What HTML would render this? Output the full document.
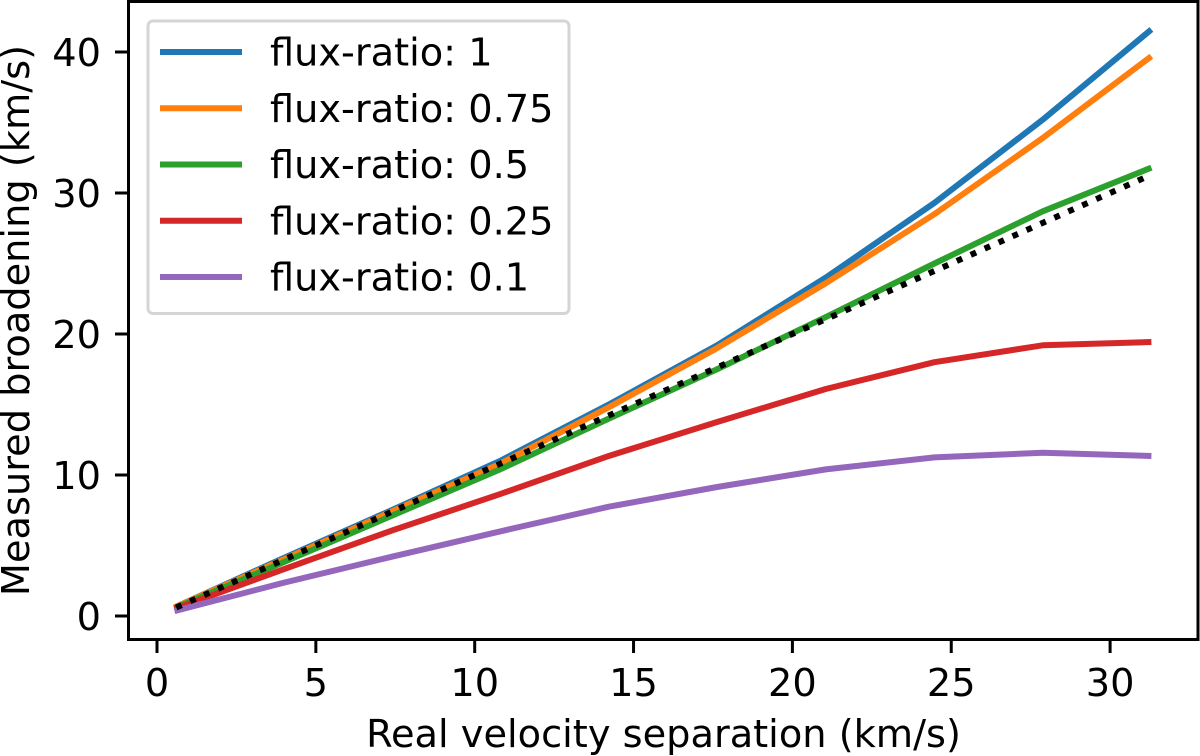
<!DOCTYPE html>
<html lang="en">
<head>
<meta charset="utf-8">
<title>Measured broadening vs real velocity separation</title>
<style>
html,body{margin:0;padding:0;background:#fff;}
svg{display:block;}
text{font-family:"DejaVu Sans","Liberation Sans",sans-serif;fill:#000;}
</style>
</head>
<body>
<svg id="chart" xmlns="http://www.w3.org/2000/svg" width="1200" height="756" viewBox="0 0 1200 756"></svg>
<script>
const separations = [0.55, 3.97, 7.38, 10.8, 14.22, 17.63, 21.05, 24.47, 27.88, 31.3];
const flux1 = [0.6, 4.1, 7.5, 11.0, 15.0, 19.2, 24.0, 29.3, 35.2, 41.6];
const flux075 = [0.6, 4.0, 7.4, 10.8, 14.8, 19.0, 23.6, 28.5, 33.9, 39.7];
const flux05 = [0.55, 3.8, 7.1, 10.4, 14.0, 17.5, 21.2, 25.0, 28.7, 31.8];
const flux025 = [0.5, 3.3, 6.05, 8.65, 11.35, 13.76, 16.1, 18.0, 19.2, 19.43];
const flux01 = [0.35, 2.35, 4.2, 6.0, 7.75, 9.15, 10.4, 11.25, 11.58, 11.35];
const identityLine = [0.55, 3.97, 7.38, 10.8, 14.22, 17.63, 21.05, 24.47, 27.88, 31.3];
const seriesLabels = ["flux-ratio: 1", "flux-ratio: 0.75", "flux-ratio: 0.5", "flux-ratio: 0.25", "flux-ratio: 0.1"];
const seriesColors = ["#1f77b4", "#ff7f0e", "#2ca02c", "#d62728", "#9467bd"];
const seriesValues = [flux1, flux075, flux05, flux025, flux01];
const xTicks = [0, 5, 10, 15, 20, 25, 30];
const yTicks = [0, 10, 20, 30, 40];

const NS = "http://www.w3.org/2000/svg";
const svg = document.getElementById("chart");
const plotLeft = 128.5, plotRight = 1198, plotTop = 1.5, plotBottom = 639.5;
const fontSize = 38.3;
const lineWidth = 6;
function xScale(v) { return 157 + 31.77 * v; }
function yScale(v) { return 616 - 14.1 * v; }
function make(tag, parent) {
  const el = document.createElementNS(NS, tag);
  parent.appendChild(el);
  return el;
}
function pointsFor(values) {
  return values.map(function (v, i) { return xScale(separations[i]).toFixed(2) + "," + yScale(v).toFixed(2); }).join(" ");
}

const bg = make("rect", svg);


bg.setAttribute("width", 1200);
bg.setAttribute("height", 756);
bg.setAttribute("fill", "#fff");

seriesValues.forEach(function (vals, i) {
  const line = make("polyline", svg);
  
  
  line.setAttribute("points", pointsFor(vals));
  line.setAttribute("fill", "none");
  line.setAttribute("stroke", seriesColors[i]);
  line.setAttribute("stroke-width", lineWidth);
  line.setAttribute("stroke-linejoin", "round");
});

const dotted = make("polyline", svg);


dotted.setAttribute("points", pointsFor(identityLine));
dotted.setAttribute("fill", "none");
dotted.setAttribute("stroke", "#000");
dotted.setAttribute("stroke-width", lineWidth);
dotted.setAttribute("stroke-dasharray", "5.9 9.35");
dotted.setAttribute("stroke-dashoffset", "-1.9");

const frame = make("rect", svg);


frame.setAttribute("x", plotLeft);
frame.setAttribute("y", plotTop);
frame.setAttribute("width", plotRight - plotLeft);
frame.setAttribute("height", plotBottom - plotTop);
frame.setAttribute("fill", "none");
frame.setAttribute("stroke", "#000");
frame.setAttribute("stroke-width", 3);

xTicks.forEach(function (t) {
  const mark = make("line", svg);
  
  
  mark.setAttribute("x1", xScale(t));
  mark.setAttribute("x2", xScale(t));
  mark.setAttribute("y1", plotBottom);
  mark.setAttribute("y2", plotBottom + 13.5);
  mark.setAttribute("stroke", "#000");
  mark.setAttribute("stroke-width", 3);
  const label = make("text", svg);
  
  
  label.setAttribute("x", xScale(t));
  label.setAttribute("y", 696);
  label.setAttribute("font-size", fontSize);
  label.setAttribute("text-anchor", "middle");
  label.textContent = t;
});

yTicks.forEach(function (t) {
  const mark = make("line", svg);
  
  
  mark.setAttribute("x1", plotLeft - 13.5);
  mark.setAttribute("x2", plotLeft);
  mark.setAttribute("y1", yScale(t));
  mark.setAttribute("y2", yScale(t));
  mark.setAttribute("stroke", "#000");
  mark.setAttribute("stroke-width", 3);
  const label = make("text", svg);
  
  
  label.setAttribute("x", 101);
  label.setAttribute("y", yScale(t) + 14);
  label.setAttribute("font-size", fontSize);
  label.setAttribute("text-anchor", "end");
  label.textContent = t;
});

const xTitle = make("text", svg);


xTitle.setAttribute("x", 663.5);
xTitle.setAttribute("y", 747);
xTitle.setAttribute("font-size", fontSize);
xTitle.setAttribute("text-anchor", "middle");
xTitle.textContent = "Real velocity separation (km/s)";

const yTitle = make("text", svg);


yTitle.setAttribute("transform", "translate(29,320.5) rotate(-90)");
yTitle.setAttribute("font-size", fontSize);
yTitle.setAttribute("text-anchor", "middle");
yTitle.textContent = "Measured broadening (km/s)";

const legendBox = make("rect", svg);


legendBox.setAttribute("x", 148);
legendBox.setAttribute("y", 21);
legendBox.setAttribute("width", 421);
legendBox.setAttribute("height", 292.5);
legendBox.setAttribute("rx", 5);
legendBox.setAttribute("fill", "#fff");
legendBox.setAttribute("fill-opacity", 0.8);
legendBox.setAttribute("stroke", "#d5d5d5");
legendBox.setAttribute("stroke-width", 3);

seriesLabels.forEach(function (name, i) {
  const rowY = 52 + 56.25 * i;
  const swatch = make("line", svg);
  
  
  swatch.setAttribute("x1", 160);
  swatch.setAttribute("x2", 242);
  swatch.setAttribute("y1", rowY);
  swatch.setAttribute("y2", rowY);
  swatch.setAttribute("stroke", seriesColors[i]);
  swatch.setAttribute("stroke-width", lineWidth);
  const label = make("text", svg);
  
  
  label.setAttribute("x", 270);
  label.setAttribute("y", rowY + 13.5);
  label.setAttribute("font-size", fontSize);
  label.textContent = name;
});
</script>
</body>
</html>
